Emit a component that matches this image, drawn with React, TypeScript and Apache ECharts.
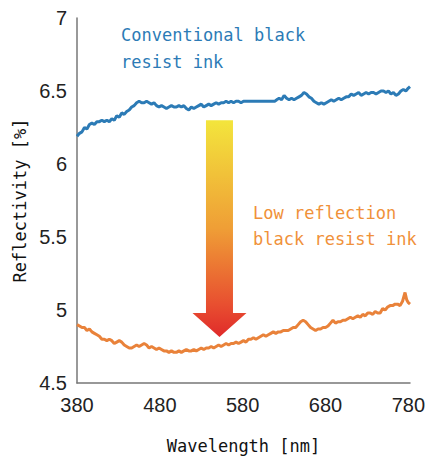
import React, { useEffect, useRef } from "react";
import * as echarts from "echarts";

const xTicks = [380, 480, 580, 680, 780];
const yTicks = [4.5, 5, 5.5, 6, 6.5, 7];

const blueWl = [380,383,386,389,392,395,398,401,404,407,410,413,416,419,422,425,428,431,434,437,440,443,446,449,452,455,458,461,464,467,470,473,476,479,482,485,488,491,494,497,500,503,506,509,512,515,518,521,524,527,530,533,536,539,542,545,548,551,554,557,560,563,566,569,572,575,578,581,584,587,590,600,610,619,621,624,627,630,633,636,639,642,645,648,651,654,657,660,663,666,669,672,675,678,681,684,687,690,693,696,699,702,705,708,711,714,717,720,723,726,729,732,735,738,741,744,747,750,753,756,759,762,765,768,771,774,777,780,782];
const blueVal = [6.19,6.21,6.22,6.25,6.24,6.27,6.28,6.27,6.29,6.29,6.30,6.29,6.30,6.29,6.31,6.30,6.33,6.32,6.35,6.34,6.36,6.37,6.39,6.40,6.42,6.43,6.42,6.42,6.43,6.42,6.41,6.42,6.40,6.39,6.40,6.39,6.38,6.39,6.40,6.39,6.39,6.40,6.39,6.40,6.38,6.37,6.39,6.38,6.39,6.40,6.41,6.39,6.40,6.41,6.40,6.41,6.42,6.41,6.42,6.42,6.43,6.42,6.43,6.42,6.43,6.43,6.42,6.43,6.43,6.43,6.43,6.43,6.43,6.43,6.44,6.45,6.44,6.47,6.45,6.44,6.45,6.44,6.45,6.46,6.47,6.49,6.48,6.46,6.45,6.43,6.42,6.41,6.42,6.41,6.42,6.43,6.44,6.43,6.44,6.45,6.44,6.45,6.46,6.46,6.48,6.47,6.48,6.49,6.47,6.48,6.49,6.48,6.49,6.49,6.48,6.49,6.50,6.50,6.49,6.50,6.48,6.49,6.47,6.48,6.50,6.51,6.50,6.52,6.53];

const orangeWl = [380,383,386,389,392,395,398,401,404,407,410,413,416,419,422,425,428,431,434,437,440,443,446,449,452,455,458,461,464,467,470,473,476,479,482,485,488,491,494,497,500,503,506,509,512,515,518,521,524,527,530,533,536,539,542,545,548,551,554,557,560,563,566,569,572,575,578,581,584,587,590,593,596,599,602,605,608,611,614,617,620,623,626,629,632,635,638,641,644,647,650,653,656,659,662,665,668,671,674,677,680,683,686,689,692,695,698,701,704,707,710,713,716,719,722,725,728,731,734,737,740,743,746,749,752,755,758,761,764,767,770,773,776,778,780,782];
const orangeVal = [4.90,4.89,4.88,4.88,4.86,4.87,4.85,4.84,4.83,4.82,4.80,4.80,4.79,4.80,4.79,4.77,4.78,4.79,4.78,4.76,4.75,4.74,4.74,4.75,4.76,4.75,4.76,4.77,4.76,4.74,4.75,4.74,4.73,4.74,4.73,4.72,4.72,4.71,4.72,4.71,4.71,4.72,4.71,4.72,4.73,4.72,4.72,4.73,4.72,4.73,4.74,4.73,4.74,4.74,4.75,4.74,4.75,4.76,4.75,4.76,4.77,4.76,4.77,4.77,4.78,4.77,4.78,4.79,4.78,4.80,4.80,4.81,4.80,4.81,4.82,4.83,4.82,4.83,4.84,4.85,4.84,4.85,4.85,4.86,4.86,4.86,4.87,4.88,4.88,4.90,4.92,4.93,4.92,4.90,4.88,4.87,4.86,4.87,4.87,4.88,4.88,4.89,4.91,4.93,4.91,4.92,4.92,4.93,4.93,4.94,4.95,4.94,4.95,4.96,4.95,4.97,4.96,4.98,4.98,4.97,4.99,4.98,4.98,5.01,5.00,5.02,5.03,5.03,5.04,5.04,5.03,5.06,5.12,5.07,5.05,5.04];

const arrowX = 552;
const arrowTop = 6.3;
const arrowNeck = 4.98;
const arrowTip = 4.815;

const mono = "'DejaVu Sans Mono', 'Liberation Mono', monospace";

export default function App() {
  const ref = useRef<HTMLDivElement>(null);
  useEffect(() => {
    const chart = echarts.init(ref.current!, null, { renderer: "svg" });
    chart.setOption({
      animation: false,
      grid: { left: 77, right: 15, top: 18, bottom: 76, containLabel: false, outerBoundsMode: "none" },
      xAxis: {
        type: "value",
        min: 380,
        max: 782,
        splitLine: { show: false },
        axisTick: { show: false },
        axisLine: { lineStyle: { color: "#777", width: 1.5 } },
        axisLabel: {
          fontFamily: "'Liberation Sans', Arial, sans-serif",
          fontSize: 20,
          color: "#222",
          margin: 12,
          customValues: xTicks,
        },
        name: "Wavelength [nm]",
        nameLocation: "middle",
        nameGap: 54,
        nameTextStyle: { fontFamily: mono, fontSize: 17, color: "#111" },
      },
      yAxis: {
        type: "value",
        min: 4.5,
        max: 7,
        interval: 0.5,
        splitLine: { show: false },
        axisTick: { show: false },
        axisLine: { show: true, lineStyle: { color: "#777", width: 1.5 } },
        axisLabel: {
          fontFamily: "'Liberation Sans', Arial, sans-serif",
          fontSize: 20,
          color: "#222",
          margin: 10,
          customValues: yTicks,
        },
        name: "Reflectivity [%]",
        nameLocation: "middle",
        nameGap: 48,
        nameRotate: 90,
        nameTextStyle: { fontFamily: mono, fontSize: 17, color: "#111" },
      },
      series: [
        {
          type: "line",
          data: blueWl.map((w, i) => [w, blueVal[i]]),
          showSymbol: false,
          lineStyle: { color: "#2c7bb6", width: 3 },
        },
        {
          type: "line",
          data: orangeWl.map((w, i) => [w, orangeVal[i]]),
          showSymbol: false,
          lineStyle: { color: "#e9823a", width: 3 },
        },
      ],
    });
    const [x0, yTop] = chart.convertToPixel({ gridIndex: 0 }, [arrowX, arrowTop]);
    const [, yNeck] = chart.convertToPixel({ gridIndex: 0 }, [arrowX, arrowNeck]);
    const [, yTip] = chart.convertToPixel({ gridIndex: 0 }, [arrowX, arrowTip]);
    const sw = 13.5;
    const hw = 27;
    chart.setOption({
      graphic: [
        {
          type: "polygon",
          shape: {
            points: [
              [x0 - sw, yTop],
              [x0 + sw, yTop],
              [x0 + sw, yNeck],
              [x0 + hw, yNeck],
              [x0, yTip],
              [x0 - hw, yNeck],
              [x0 - sw, yNeck],
            ],
          },
          style: {
            fill: new echarts.graphic.LinearGradient(0, 0, 0, 1, [
              { offset: 0, color: "#f3e53c" },
              { offset: 0.5, color: "#ef9e36" },
              { offset: 0.85, color: "#e84f30" },
              { offset: 1, color: "#e02a2a" },
            ]),
          },
        },
        {
          type: "text",
          left: 121,
          top: 21,
          style: {
            text: "Conventional black\nresist ink",
            fontFamily: mono,
            fontSize: 17,
            lineHeight: 27,
            fill: "#2c7bb6",
          },
        },
        {
          type: "text",
          left: 253,
          top: 200,
          style: {
            text: "Low reflection\nblack resist ink",
            fontFamily: mono,
            fontSize: 17,
            lineHeight: 26,
            fill: "#f0913a",
          },
        },
      ],
    });
    return () => chart.dispose();
  }, []);
  return <div ref={ref} style={{ width: 425, height: 459, position: "absolute", left: 0, top: 0 }} />;
}
